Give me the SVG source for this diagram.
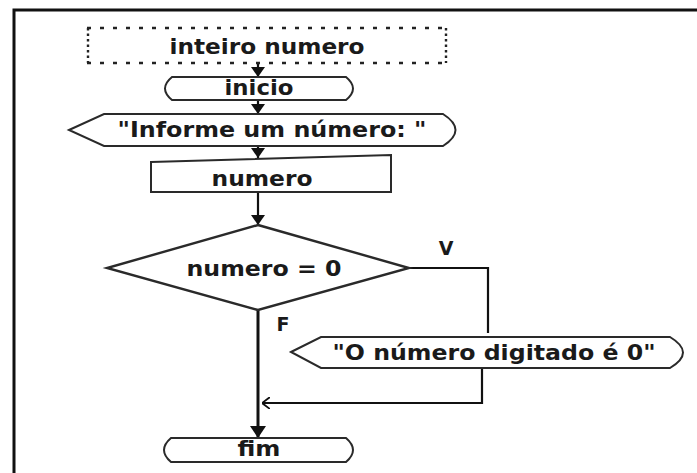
<svg xmlns="http://www.w3.org/2000/svg" width="697" height="473" viewBox="0 0 697 473">
<style>
.shape{fill:#fff;stroke:#2a2a2a;stroke-width:2}
.lbl{font-family:"DejaVu Sans",Verdana,sans-serif;font-weight:bold;font-size:22px;fill:#1a1a1a;text-anchor:middle}
.small{font-size:19px}
.conn{fill:none;stroke:#111;stroke-width:2.2}
.frame{fill:none;stroke:#111;stroke-width:3}
</style>
<defs>
<marker id="ah" viewBox="0 0 10 14" refX="10" refY="7" markerWidth="10" markerHeight="14" markerUnits="userSpaceOnUse" orient="auto">
<path d="M0,0 L10,7 L0,14 z" fill="#111"/>
</marker>
<marker id="ahBig" viewBox="0 0 12 16" refX="12" refY="8" markerWidth="12" markerHeight="16" markerUnits="userSpaceOnUse" orient="auto">
<path d="M0,0 L12,8 L0,16 z" fill="#111"/>
</marker>
<marker id="open" viewBox="0 0 8 12" refX="8" refY="6" markerWidth="8" markerHeight="12" markerUnits="userSpaceOnUse" orient="auto">
<path d="M0,0 L8,6 L0,12" fill="none" stroke="#111" stroke-width="1.8"/>
</marker>
</defs>
<rect width="697" height="473" fill="#fff"/>
<path class="frame" d="M14,473 L14,10 L697,10"/>

<g id="connectors">
<line class="conn" x1="258" y1="63" x2="258" y2="77" marker-end="url(#ah)"/>
<line class="conn" x1="258" y1="100" x2="258" y2="114" marker-end="url(#ah)"/>
<line class="conn" x1="258" y1="146" x2="258" y2="158" marker-end="url(#ah)"/>
<line class="conn" x1="258" y1="192" x2="258" y2="225" marker-end="url(#ah)"/>
<polyline class="conn" points="409,268 488,268 488,333"/>
<polyline class="conn" points="482,368 482,403 262,403" marker-end="url(#open)"/>
<line class="conn" style="stroke-width:3" x1="258" y1="310" x2="258" y2="438" marker-end="url(#ahBig)"/>
<text class="lbl small" x="446" y="255">V</text>
<text class="lbl small" x="283" y="331">F</text>
</g>

<g id="declaracao">
<rect x="87" y="28" width="360" height="35" fill="#fff" stroke="none"/>
<line x1="87" y1="28" x2="447" y2="28" stroke="#222" stroke-width="2.4" stroke-dasharray="4 9"/>
<line x1="87" y1="63" x2="447" y2="63" stroke="#222" stroke-width="2.4" stroke-dasharray="4 9"/>
<line x1="88" y1="28" x2="88" y2="63" stroke="#222" stroke-width="2.4" stroke-dasharray="2.5 3"/>
<line x1="446" y1="28" x2="446" y2="63" stroke="#222" stroke-width="2.4" stroke-dasharray="2.5 3"/>
<text class="lbl" x="267" y="54" textLength="195" lengthAdjust="spacingAndGlyphs">inteiro numero</text>
</g>

<g id="inicio">
<path class="shape" d="M172,77 L346,77 Q360,88.5 346,100 L172,100 Q158,88.5 172,77 z"/>
<text class="lbl" x="259" y="95" textLength="69" lengthAdjust="spacingAndGlyphs">inicio</text>
</g>

<g id="msg1">
<path class="shape" d="M69,130 L104,114 L443,114 Q468,130 443,146 L104,146 z"/>
<text class="lbl" x="272" y="137" textLength="309" lengthAdjust="spacingAndGlyphs">"Informe um número: "</text>
</g>

<g id="leitura">
<path class="shape" d="M151,162 L391,155 L391,192 L151,192 z"/>
<text class="lbl" x="262" y="186" textLength="101" lengthAdjust="spacingAndGlyphs">numero</text>
</g>

<g id="decisao">
<path class="shape" d="M258,225 L409,268 L258,310 L107,268 z" style="stroke-width:2.4"/>
<text class="lbl" x="264" y="276" textLength="155" lengthAdjust="spacingAndGlyphs">numero = 0</text>
</g>

<g id="msg2">
<path class="shape" d="M291,352 L321,337 L670,337 Q696,352.5 670,368 L321,368 z"/>
<text class="lbl" x="494" y="360" textLength="323" lengthAdjust="spacingAndGlyphs">"O número digitado é 0"</text>
</g>

<g id="fim">
<path class="shape" d="M171,438 L346,438 Q360,450 346,462 L171,462 Q157,450 171,438 z"/>
<text class="lbl" x="259" y="456" textLength="43" lengthAdjust="spacingAndGlyphs">fim</text>
</g>
</svg>
